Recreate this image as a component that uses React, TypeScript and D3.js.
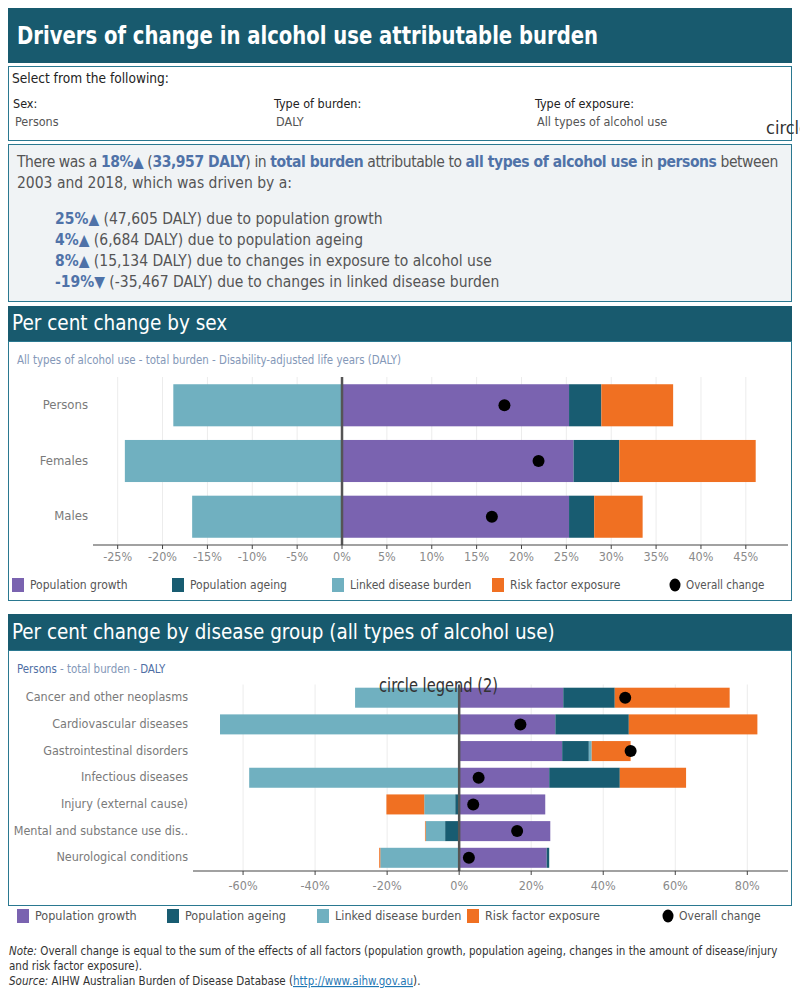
import React from 'react';
import * as d3 from 'd3';

// ---- data (percent change 2003–2018) ----
const factorKeys = ['growth', 'ageing', 'linked', 'risk'];
const factorLabels = ['Population growth', 'Population ageing', 'Linked disease burden', 'Risk factor exposure'];
const factorColors = ['#7a63b0', '#185c71', '#70b0c0', '#f07022'];

const sexCategories = ['Persons', 'Females', 'Males'];
const sexGrowth = [25.3, 25.8, 25.3];
const sexAgeing = [3.6, 5.1, 2.8];
const sexLinked = [-18.8, -24.2, -16.7];
const sexRisk = [8.0, 15.2, 5.4];
const sexOverall = [18.1, 21.9, 16.7];
const sexTicks = [-25, -20, -15, -10, -5, 0, 5, 10, 15, 20, 25, 30, 35, 40, 45];

const diseaseCategories = [
  'Cancer and other neoplasms',
  'Cardiovascular diseases',
  'Gastrointestinal disorders',
  'Infectious diseases',
  'Injury (external cause)',
  'Mental and substance use dis..',
  'Neurological conditions',
];
const diseaseGrowth = [28.9, 26.7, 28.6, 25.0, 23.9, 25.3, 24.3];
const diseaseAgeing = [14.3, 20.4, 7.4, 19.6, -1.1, -3.9, 0.7];
const diseaseLinked = [-28.9, -66.4, 0.8, -58.3, -8.6, -5.4, -21.9];
const diseaseRisk = [31.9, 35.7, 10.8, 18.4, -10.5, -0.2, -0.3];
const diseaseOverall = [46.1, 17.0, 47.6, 5.4, 3.9, 16.1, 2.7];
const diseaseTicks = [-60, -40, -20, 0, 20, 40, 60, 80];

const driverLines = [
  { pct: '25%', up: true, daly: '(47,605 DALY)', text: ' due to population growth' },
  { pct: '4%', up: true, daly: '(6,684 DALY)', text: ' due to population ageing' },
  { pct: '8%', up: true, daly: '(15,134 DALY)', text: ' due to changes in exposure to alcohol use' },
  { pct: '-19%', up: false, daly: '(-35,467 DALY)', text: ' due to changes in linked disease burden' },
];

const FONT = '"Liberation Sans Narrow", "DejaVu Sans Condensed", "Liberation Sans", sans-serif';
const HEAD = '#185a6e';
const BORDER = '#2a7890';
const BLUE = '#4f72a8';
const GREY = '#555';

type Row = { cat: string; growth: number; ageing: number; linked: number; risk: number; overall: number };

function buildRows(cats: string[], g: number[], a: number[], l: number[], r: number[], o: number[]): Row[] {
  return cats.map((c, i) => ({ cat: c, growth: g[i], ageing: a[i], linked: l[i], risk: r[i], overall: o[i] }));
}

interface ChartProps {
  rows: Row[];
  xDomain: [number, number];
  xRange: [number, number];
  yRange: [number, number];
  padInner: number;
  padOuter: number;
  ticks: number[];
  labelX: number;
  labelSize: number;
  tickY: number;
  dotR: number;
}

const DivergingBars: React.FC<ChartProps> = ({ rows, xDomain, xRange, yRange, padInner, padOuter, ticks, labelX, labelSize, tickY, dotR }) => {
  const x = d3.scaleLinear().domain(xDomain).range(xRange);
  const y = d3.scaleBand().domain(rows.map(d => d.cat)).range(yRange).paddingInner(padInner).paddingOuter(padOuter);
  const series = d3.stack<Row>().keys(factorKeys).offset(d3.stackOffsetDiverging)(rows);
  const colour = d3.scaleOrdinal<string, string>().domain(factorKeys).range(factorColors);

  return (
    <g>
      {ticks.map(t => (
        <line key={'g' + t} x1={x(t)} x2={x(t)} y1={yRange[0]} y2={yRange[1]} stroke="#ececec" strokeWidth={1} />
      ))}
      {series.map(s => (
        <g key={s.key} fill={colour(s.key)}>
          {s.map((d, i) => {
            const x0 = x(Math.min(d[0], d[1]));
            const x1 = x(Math.max(d[0], d[1]));
            return <rect key={i} x={x0} y={y(rows[i].cat)} width={Math.max(0, x1 - x0)} height={y.bandwidth()} />;
          })}
        </g>
      ))}
      <line x1={x(0)} x2={x(0)} y1={yRange[0]} y2={yRange[1]} stroke="#555" strokeWidth={2.5} />
      {rows.map(d => (
        <circle key={'o' + d.cat} cx={x(d.overall)} cy={(y(d.cat) || 0) + y.bandwidth() / 2} r={dotR} fill="#000" />
      ))}
      <line x1={xRange[0]} x2={xRange[1]} y1={yRange[1]} y2={yRange[1]} stroke="#444" strokeWidth={1.2} />
      {ticks.map(t => (
        <g key={'t' + t}>
          <line x1={x(t)} x2={x(t)} y1={yRange[1]} y2={yRange[1] + 4} stroke="#444" />
          <text x={x(t)} y={tickY} textAnchor="middle" fontSize={12.5} fill="#8a8a8a" dominantBaseline="middle">
            {t + '%'}
          </text>
        </g>
      ))}
      {rows.map(d => (
        <text key={'l' + d.cat} x={labelX} y={(y(d.cat) || 0) + y.bandwidth() / 2} textAnchor="end" dominantBaseline="middle"
          fontSize={labelSize} fill="#7a7a7a">
          {d.cat}
        </text>
      ))}
    </g>
  );
};

const Legend: React.FC<{ y: number; xs: number[]; dotX: number; size: number; fontSize: number }> = ({ y, xs, dotX, size, fontSize }) => (
  <g>
    {factorLabels.map((lab, i) => (
      <g key={lab}>
        <rect x={xs[i]} y={y - size / 2} width={size - 2} height={size} fill={factorColors[i]} />
        <text x={xs[i] + size + 4} y={y} dominantBaseline="middle" fontSize={fontSize} fill={GREY}>{lab}</text>
      </g>
    ))}
    <ellipse cx={dotX} cy={y} rx={5.5} ry={6.5} fill="#000" />
    <text x={dotX + 11} y={y} dominantBaseline="middle" fontSize={fontSize - 0.5} fill={GREY}>Overall change</text>
  </g>
);

export default function App() {
  const sexRows = buildRows(sexCategories, sexGrowth, sexAgeing, sexLinked, sexRisk, sexOverall);
  const diseaseRows = buildRows(diseaseCategories, diseaseGrowth, diseaseAgeing, diseaseLinked, diseaseRisk, diseaseOverall);

  return (
    <svg width={800} height={1000} style={{ position: 'absolute', left: 0, top: 0, fontFamily: FONT }}>
      <rect x={0} y={0} width={800} height={1000} fill="#fff" />

      {/* title */}
      <rect x={8} y={8} width={784} height={55} fill={HEAD} />
      <text x={17} y={37} dominantBaseline="middle" fontSize={25} fontWeight="bold" fill="#fff"
        textLength={581} lengthAdjust="spacingAndGlyphs">
        Drivers of change in alcohol use attributable burden
      </text>

      {/* selectors */}
      <rect x={8.5} y={66.5} width={783} height={74} fill="#fff" stroke={BORDER} />
      <g fontSize={12.5} fill="#222">
        <text x={12} y={79} dominantBaseline="middle" fontSize={13.6}>Select from the following:</text>
        <text x={13} y={104} dominantBaseline="middle">Sex:</text>
        <text x={274} y={104} dominantBaseline="middle">Type of burden:</text>
        <text x={535} y={104} dominantBaseline="middle">Type of exposure:</text>
      </g>
      <g fontSize={12.5} fill="#555">
        <text x={15} y={122} dominantBaseline="middle">Persons</text>
        <text x={276} y={122} dominantBaseline="middle">DALY</text>
        <text x={537} y={122} dominantBaseline="middle">All types of alcohol use</text>
      </g>
      <text x={766} y={129} dominantBaseline="middle" fontSize={18} fill="#333">circle legend</text>

      {/* summary */}
      <rect x={8.5} y={144.5} width={783} height={157} fill="#f0f3f5" stroke={BORDER} />
      <text x={17} y={162} dominantBaseline="middle" fontSize={15.5} fill={GREY} letterSpacing={-0.42}>
        There was a <tspan fill={BLUE} fontWeight="bold">18%▲</tspan> (<tspan fill={BLUE} fontWeight="bold">33,957 DALY</tspan>) in{' '}
        <tspan fill={BLUE} fontWeight="bold">total burden</tspan> attributable to{' '}
        <tspan fill={BLUE} fontWeight="bold">all types of alcohol use</tspan> in{' '}
        <tspan fill={BLUE} fontWeight="bold">persons</tspan> between
      </text>
      <text x={17} y={183} dominantBaseline="middle" fontSize={15.5} fill={GREY}>2003 and 2018, which was driven by a:</text>
      {driverLines.map((d, i) => (
        <text key={d.pct} x={55} y={219 + i * 21} dominantBaseline="middle" fontSize={15.5} fill={GREY}>
          <tspan fill={BLUE} fontWeight="bold">{d.pct}{d.up ? '▲' : '▼'}</tspan> {d.daly}{d.text}
        </text>
      ))}

      {/* per cent change by sex */}
      <rect x={8} y={306} width={784} height={36} fill={HEAD} />
      <text x={12} y={324} dominantBaseline="middle" fontSize={20.5} fill="#fff">Per cent change by sex</text>
      <rect x={8.5} y={341.5} width={783} height={259} fill="#fff" stroke={BORDER} />
      <text x={17} y={360} dominantBaseline="middle" fontSize={11.4} fill="#8498b8">
        All types of alcohol use - total burden - Disability-adjusted life years (DALY)
      </text>
      <DivergingBars rows={sexRows} xDomain={[-27.75, 49.7]} xRange={[93, 788]} yRange={[377, 545]}
        padInner={0.245} padOuter={0.13} ticks={sexTicks} labelX={88} labelSize={13} tickY={557} dotR={6} />
      <Legend y={585} xs={[12, 172, 332, 492]} dotX={675} size={14} fontSize={12} />

      {/* per cent change by disease group */}
      <rect x={8} y={614} width={784} height={37} fill={HEAD} />
      <text x={12} y={633} dominantBaseline="middle" fontSize={20.4} fill="#fff">
        Per cent change by disease group (all types of alcohol use)
      </text>
      <rect x={8.5} y={650.5} width={783} height={255} fill="#fff" stroke={BORDER} />
      <text x={17} y={669} dominantBaseline="middle" fontSize={11.4}>
        <tspan fill="#4f6fa5">Persons</tspan><tspan fill="#8498b8"> - total burden - </tspan><tspan fill="#4f6fa5">DALY</tspan>
      </text>
      <DivergingBars rows={diseaseRows} xDomain={[-73.9, 91.3]} xRange={[193, 788]} yRange={[684.5, 871]}
        padInner={0.25} padOuter={0.12} ticks={diseaseTicks} labelX={188} labelSize={12.5} tickY={886} dotR={6} />
      <text x={379} y={686} dominantBaseline="middle" fontSize={19} fill="#333" textLength={119} lengthAdjust="spacingAndGlyphs">
        circle legend (2)
      </text>
      <Legend y={916} xs={[17, 167, 317, 467]} dotX={668} size={14} fontSize={12.5} />

      {/* notes */}
      <g fontSize={11.5} fill="#333">
        <text x={9} y={951} dominantBaseline="middle">
          <tspan fontStyle="italic">Note:</tspan> Overall change is equal to the sum of the effects of all factors (population growth, population ageing, changes in the amount of disease/injury
        </text>
        <text x={9} y={966} dominantBaseline="middle">and risk factor exposure).</text>
        <text x={9} y={981} dominantBaseline="middle">
          <tspan fontStyle="italic">Source:</tspan> AIHW Australian Burden of Disease Database (<tspan fill="#1f77b4" textDecoration="underline">http://www.aihw.gov.au</tspan>).
        </text>
      </g>
    </svg>
  );
}
